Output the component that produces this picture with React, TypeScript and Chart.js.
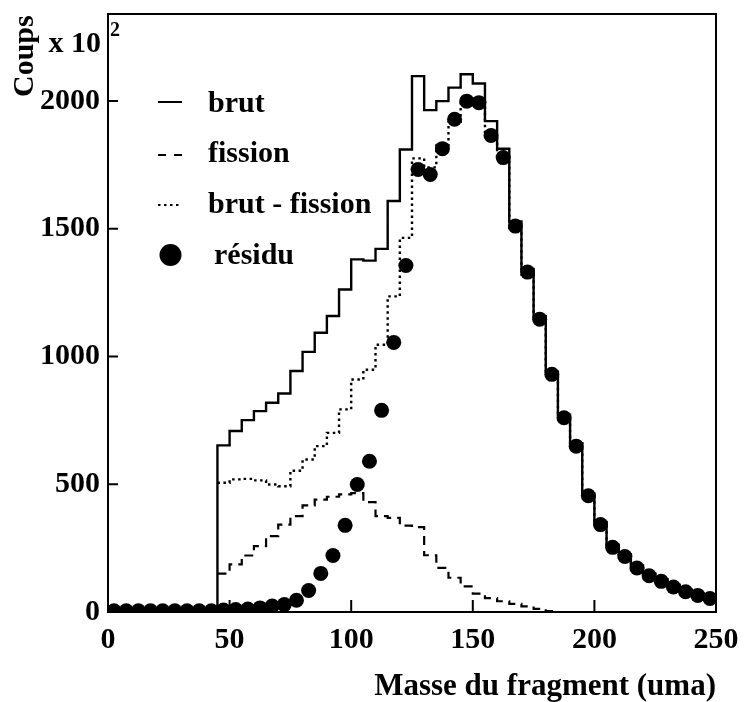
import React, { useEffect, useRef } from 'react';
import { Chart, registerables } from 'chart.js';

Chart.register(...registerables);

// Mass bins (lower edges, uma), bin width 5
const binLow = [0, 5, 10, 15, 20, 25, 30, 35, 40, 45, 50, 55, 60, 65, 70, 75, 80, 85, 90, 95,
  100, 105, 110, 115, 120, 125, 130, 135, 140, 145, 150, 155, 160, 165, 170, 175, 180, 185, 190, 195,
  200, 205, 210, 215, 220, 225, 230, 235, 240, 245];
const binWidth = 5;

const brut = [0, 0, 0, 0, 0, 0, 0, 0, 0,
  652, 708, 751, 786, 819, 855, 943, 1018, 1093, 1158, 1262, 1380, 1375, 1421, 1608, 1810, 2097, 1964, 1999, 2052,
  2104, 2068, 1921, 1813, 1528, 1342, 1157, 940, 772, 660, 463, 352, 262, 226, 182, 150, 128, 106, 87, 72, 60];

const fission = [null, null, null, null, null, null, null, null, null,
  150, 186, 221, 258, 297, 342, 375, 417, 440, 451, 460, 465, 430, 375, 368, 338, 332, 222, 173, 134,
  100, 72, 54, 42, 32, 22, 12, 4, 0, 0, 0, 0, 0, 0, 0, 0, 0, 0, 0, 0, 0];

const brutMoinsFission = [null, null, null, null, null, null, null, null, null,
  506, 519, 521, 515, 499, 492, 553, 597, 649, 701, 793, 910, 948, 1046, 1235, 1464, 1775, 1740, 1826, 1918,
  2004, 1996, 1867, 1771, 1496, 1320, 1145, 936, 772, 660, 463, 352, 262, 226, 182, 150, 128, 106, 87, 72, 60];

const residu = [5, 5, 5, 5, 5, 5, 5, 5, 5,
  8, 10, 12, 16, 23, 29, 46, 84, 151, 221, 339, 499, 590, 789, 1055, 1356, 1732, 1712, 1813, 1928,
  1999, 1993, 1865, 1778, 1510, 1330, 1146, 930, 760, 649, 455, 342, 253, 217, 172, 142, 120, 98, 79, 65, 53];

const xTicks = [0, 50, 100, 150, 200, 250];
const yTicks = [0, 500, 1000, 1500, 2000];
const xMin = 0;
const xMax = 250;
const yMax = 2340;

const legendLabels = ['brut', 'fission', 'brut - fission', 'résidu'];
const xTitle = 'Masse du fragment (uma)';
const yTitle = 'Coups';
const yUnit = 'x 10';
const yUnitExp = '2';

const FAMILY = '"Liberation Serif", "Times New Roman", serif';

function toSteps(vals: (number | null)[]) {
  const pts = binLow.map((x, i) => ({ x, y: vals[i] }));
  pts.push({ x: binLow[binLow.length - 1] + binWidth, y: vals[vals.length - 1] });
  return pts;
}

const decorPlugin = {
  id: 'decor',
  afterDraw(chart: any) {
    const { ctx, chartArea } = chart;
    const { left, right, top, bottom } = chartArea;
    const xs = chart.scales.x;
    const ys = chart.scales.y;
    ctx.save();
    ctx.strokeStyle = '#000';
    ctx.fillStyle = '#000';
    ctx.lineWidth = 2;
    ctx.setLineDash([]);
    ctx.strokeRect(left, top, right - left, bottom - top);
    // inward ticks
    ctx.beginPath();
    yTicks.forEach((v) => {
      const py = ys.getPixelForValue(v);
      ctx.moveTo(left, py);
      ctx.lineTo(left + 10, py);
    });
    xTicks.forEach((v) => {
      const px = xs.getPixelForValue(v);
      ctx.moveTo(px, bottom);
      ctx.lineTo(px, bottom - 12);
    });
    ctx.stroke();

    // legend
    ctx.font = `bold 30px ${FAMILY}`;
    ctx.textAlign = 'left';
    ctx.textBaseline = 'alphabetic';
    const sx0 = 158, sx1 = 182, tx = 208;
    // brut
    ctx.lineWidth = 2;
    ctx.beginPath(); ctx.moveTo(sx0, 102); ctx.lineTo(sx1, 102); ctx.stroke();
    ctx.fillText(legendLabels[0], tx, 112);
    // fission
    ctx.setLineDash([8, 8]);
    ctx.beginPath(); ctx.moveTo(sx0, 155); ctx.lineTo(sx1 + 1, 155); ctx.stroke();
    ctx.fillText(legendLabels[1], tx, 162);
    // brut - fission
    ctx.setLineDash([2.5, 3.5]);
    ctx.beginPath(); ctx.moveTo(sx0, 205); ctx.lineTo(sx1, 205); ctx.stroke();
    ctx.setLineDash([]);
    ctx.fillText(legendLabels[2], tx, 213);
    // residu
    ctx.beginPath(); ctx.arc(170.5, 255, 11, 0, Math.PI * 2); ctx.fill();
    ctx.fillText(legendLabels[3], 214, 264);

    // y title
    ctx.save();
    ctx.translate(33, 97);
    ctx.rotate(-Math.PI / 2);
    ctx.textAlign = 'left';
    ctx.fillText(yTitle, 0, 0);
    ctx.restore();
    ctx.textAlign = 'right';
    ctx.fillText(yUnit, 101, 52);
    ctx.font = `bold 20px ${FAMILY}`;
    ctx.textAlign = 'left';
    ctx.fillText(yUnitExp, 110, 36);
    ctx.restore();
  },
};

export default function App() {
  const ref = useRef<HTMLCanvasElement | null>(null);
  useEffect(() => {
    document.body.style.margin = '0';
    const canvas = ref.current;
    if (!canvas) return;
    const tickFont = { family: FAMILY, size: 30, weight: 'bold' as const, lineHeight: 1 };
    const chart = new Chart(canvas, {
      type: 'line',
      data: {
        datasets: [
          {
            label: legendLabels[3],
            data: binLow.map((x, i) => ({ x: x + binWidth / 2, y: residu[i] })),
            showLine: false,
            pointRadius: 7.5,
            pointHoverRadius: 7.5,
            pointStyle: 'circle',
            backgroundColor: '#000',
            borderColor: '#000',
            borderWidth: 0,
            clip: 0,
            order: 0,
          } as any,
          {
            label: legendLabels[2],
            data: toSteps(brutMoinsFission),
            stepped: 'before',
            borderColor: '#000',
            borderWidth: 2.4,
            borderDash: [2.5, 3.5],
            pointRadius: 0,
            fill: false,
            order: 1,
          } as any,
          {
            label: legendLabels[1],
            data: toSteps(fission),
            stepped: 'before',
            borderColor: '#000',
            borderWidth: 2.2,
            borderDash: [9, 6],
            pointRadius: 0,
            fill: false,
            order: 2,
          } as any,
          {
            label: legendLabels[0],
            data: toSteps(brut),
            stepped: 'before',
            borderColor: '#000',
            borderWidth: 2.4,
            pointRadius: 0,
            fill: false,
            order: 3,
          } as any,
        ],
      },
      options: {
        responsive: false,
        animation: false,
        events: [],
        layout: { padding: { left: 0, top: 14, right: 28, bottom: 0 } },
        plugins: { legend: { display: false }, tooltip: { enabled: false } },
        scales: {
          x: {
            type: 'linear',
            min: xMin,
            max: xMax,
            afterFit: (s: any) => { s.height = 90; s.paddingLeft = 0; s.paddingRight = 0; },
            afterBuildTicks: (s: any) => { s.ticks = xTicks.map((v) => ({ value: v })); },
            grid: { display: false, drawTicks: false },
            border: { display: false },
            ticks: { padding: 13, color: '#000', font: tickFont, maxRotation: 0, autoSkip: false, callback: (v: any) => String(v) },
            title: {
              display: true,
              text: xTitle,
              align: 'end',
              color: '#000',
              font: { family: FAMILY, size: 31, weight: 'bold', lineHeight: 1 },
              padding: { top: 0, bottom: 0 },
            },
          },
          y: {
            type: 'linear',
            min: 0,
            max: yMax,
            afterFit: (s: any) => { s.width = 108; s.paddingTop = 0; s.paddingBottom = 0; },
            afterBuildTicks: (s: any) => { s.ticks = yTicks.map((v) => ({ value: v })); },
            grid: { display: false, drawTicks: false },
            border: { display: false },
            ticks: { padding: 8, color: '#000', font: tickFont, autoSkip: false, callback: (v: any) => String(v) },
          },
        },
      },
      plugins: [decorPlugin],
    });
    return () => chart.destroy();
  }, []);
  return <canvas ref={ref} width={744} height={702} style={{ display: 'block' }} />;
}
